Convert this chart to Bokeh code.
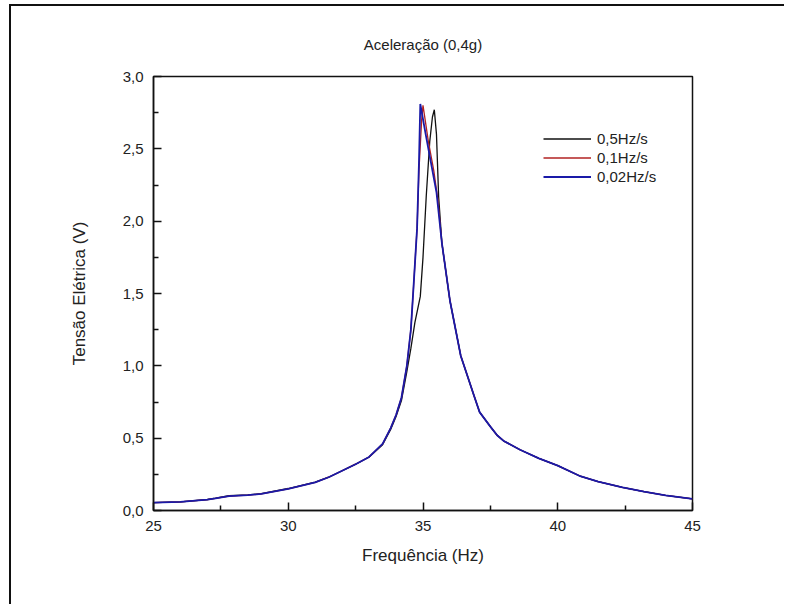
from bokeh.plotting import figure
from bokeh.models import FixedTicker, CustomJSTickFormatter, Legend, LegendItem, Range1d
from bokeh.embed import file_html
from bokeh.resources import INLINE

# ---- data ----
title_text = "Aceleração (0,4g)"
x_label = "Frequência (Hz)"
y_label = "Tensão Elétrica (V)"
series_names = ["0,5Hz/s", "0,1Hz/s", "0,02Hz/s"]

x_ticks = [25, 30, 35, 40, 45]
x_minor = [27.5, 32.5, 37.5, 42.5]
y_ticks = [0.0, 0.5, 1.0, 1.5, 2.0, 2.5, 3.0]
y_minor = [0.25, 0.75, 1.25, 1.75, 2.25, 2.75]

f_05 = [25, 26, 27, 27.3, 27.8, 28.5, 29, 30, 31, 31.5, 32, 32.5, 33, 33.5, 33.8, 34.0,
        34.2, 34.4, 34.55, 34.7, 34.9, 35.0, 35.12, 35.25, 35.35, 35.42, 35.5, 35.58,
        35.7, 36.0, 36.4, 36.9, 37.1, 37.5, 37.75, 38.0, 38.6, 39.3, 40.0, 40.8, 41.5,
        42.4, 43.2, 44.0, 45.0]
v_05 = [0.055, 0.060, 0.076, 0.085, 0.102, 0.108, 0.117, 0.152, 0.196, 0.230, 0.275,
        0.320, 0.370, 0.455, 0.560, 0.650, 0.760, 0.960, 1.120, 1.300, 1.480, 1.750,
        2.170, 2.550, 2.720, 2.770, 2.600, 2.170, 1.850, 1.450, 1.070, 0.790, 0.680,
        0.580, 0.520, 0.480, 0.420, 0.360, 0.310, 0.240, 0.200, 0.160, 0.130, 0.105,
        0.080]

f_01 = [25, 26, 27, 27.3, 27.8, 28.5, 29, 30, 31, 31.5, 32, 32.5, 33, 33.5, 33.8, 34.0,
        34.2, 34.4, 34.55, 34.65, 34.78, 34.85, 34.95, 35.0, 35.2, 35.4, 35.55, 35.7,
        36.0, 36.4, 36.9, 37.1, 37.5, 37.75, 38.0, 38.6, 39.3, 40.0, 40.8, 41.5, 42.4,
        43.2, 44.0, 45.0]
v_01 = [0.055, 0.060, 0.075, 0.084, 0.100, 0.106, 0.115, 0.150, 0.195, 0.230, 0.275,
        0.320, 0.370, 0.460, 0.570, 0.660, 0.780, 1.000, 1.250, 1.550, 1.950, 2.350,
        2.700, 2.800, 2.550, 2.350, 2.150, 1.850, 1.450, 1.070, 0.790, 0.680, 0.580,
        0.520, 0.480, 0.420, 0.360, 0.310, 0.240, 0.200, 0.160, 0.130, 0.105, 0.080]

f_002 = [25, 26, 27, 27.3, 27.8, 28.5, 29, 30, 31, 31.5, 32, 32.5, 33, 33.5, 33.8, 34.0,
         34.2, 34.4, 34.55, 34.65, 34.78, 34.85, 34.9, 35.1, 35.3, 35.5, 35.7, 36.0,
         36.4, 36.9, 37.1, 37.5, 37.75, 38.0, 38.6, 39.3, 40.0, 40.8, 41.5, 42.4, 43.2,
         44.0, 45.0]
v_002 = [0.055, 0.060, 0.075, 0.084, 0.100, 0.106, 0.115, 0.150, 0.195, 0.230, 0.275,
         0.320, 0.370, 0.460, 0.570, 0.660, 0.780, 1.000, 1.250, 1.550, 1.950, 2.400,
         2.810, 2.600, 2.400, 2.200, 1.850, 1.450, 1.070, 0.790, 0.680, 0.580, 0.520,
         0.480, 0.420, 0.360, 0.310, 0.240, 0.200, 0.160, 0.130, 0.105, 0.080]

colors = ["#111111", "#b22222", "#1a1aa8"]
FONT = "Liberation Sans"
TXT = "#222222"

p = figure(width=775, height=600, output_backend="svg", toolbar_location=None,
           x_range=Range1d(25, 45), y_range=Range1d(0, 3.0),
           min_border_left=142, min_border_right=94, min_border_top=70,
           min_border_bottom=96)
p.styles = {"margin-left": "9px", "margin-top": "4px",
            "border-left": "2px solid #111", "border-top": "2px solid #111"}

p.title.text = title_text
p.title.align = "center"
p.title.vertical_align = "bottom"
p.title.text_font = FONT
p.title.text_font_size = "15px"
p.title.text_font_style = "normal"
p.title.text_color = TXT
p.title.standoff = 47

p.grid.visible = False
p.background_fill_color = "white"
p.border_fill_color = "white"
p.outline_line_color = "#111111"
p.outline_line_width = 1.5

p.xaxis.ticker = FixedTicker(ticks=x_ticks, minor_ticks=x_minor)
p.yaxis.ticker = FixedTicker(ticks=y_ticks, minor_ticks=y_minor)
p.yaxis.formatter = CustomJSTickFormatter(code="return tick.toFixed(1).replace('.', ',');")
p.xaxis.formatter = CustomJSTickFormatter(code="return tick.toFixed(0);")

for ax in (p.xaxis, p.yaxis):
    ax.axis_line_width = 1.5
    ax.axis_line_color = "#111111"
    ax.major_tick_in = 8
    ax.major_tick_out = 0
    ax.minor_tick_in = 5
    ax.minor_tick_out = 0
    ax.major_tick_line_width = 1.5
    ax.minor_tick_line_width = 1.5
    ax.major_tick_line_color = "#111111"
    ax.minor_tick_line_color = "#111111"
    ax.major_label_text_font = FONT
    ax.major_label_text_font_size = "15px"
    ax.major_label_text_color = TXT
    ax.axis_label_text_font = FONT
    ax.axis_label_text_font_size = "17px"
    ax.axis_label_text_font_style = "normal"
    ax.axis_label_text_color = TXT

p.xaxis.axis_label = x_label
p.yaxis.axis_label = y_label
p.xaxis.major_label_standoff = 10
p.yaxis.major_label_standoff = 10
p.xaxis.axis_label_standoff = 12
p.yaxis.axis_label_standoff = 31

r1 = p.line(f_05, v_05, line_color=colors[0], line_width=1.3)
r2 = p.line(f_01, v_01, line_color=colors[1], line_width=1.3)
r3 = p.line(f_002, v_002, line_color=colors[2], line_width=1.8)

legend = Legend(items=[LegendItem(label=series_names[0], renderers=[r1]),
                       LegendItem(label=series_names[1], renderers=[r2]),
                       LegendItem(label=series_names[2], renderers=[r3])],
                location=(390, 324), padding=0, margin=0, spacing=0,
                glyph_width=48, glyph_height=19, label_height=19, label_standoff=6,
                label_text_font=FONT, label_text_font_size="15px",
                label_text_color=TXT, background_fill_alpha=0,
                border_line_alpha=0)
p.add_layout(legend)

open("out.html", "w").write(file_html(p, INLINE))
